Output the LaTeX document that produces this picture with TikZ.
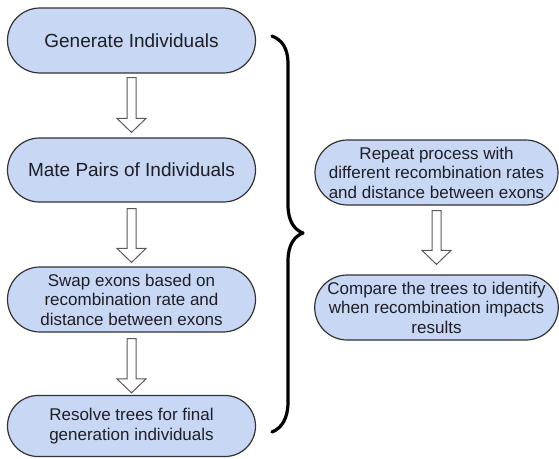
\documentclass[tikz,border=0pt]{standalone}
\usepackage{fontspec}
\setmainfont{Liberation Sans}
\usetikzlibrary{shapes.misc,calc}
\definecolor{boxfill}{RGB}{200,215,243}
\definecolor{boxline}{RGB}{50,50,55}
\definecolor{txt}{RGB}{30,30,40}
\definecolor{arrline}{RGB}{90,90,90}
\tikzset{
  pill/.style={rounded rectangle, draw=boxline, line width=1.2pt, fill=boxfill,
    text=txt, align=center, inner sep=0pt},
  bigtext/.style={font=\fontsize{19}{22}\selectfont},
  smalltext/.style={font=\fontsize{17}{19.5}\selectfont},
  blockarrow/.style={draw=arrline, line width=1pt, fill=white, line join=miter},
  bracestyle/.style={line width=3.2pt, line cap=round, line join=round, black}
}
\newcommand{\blockarr}[4]{% from node, to node, top gap, tip gap
  \draw[blockarrow] let \p1=($(#1.south)+(0,-#3)$), \p2=($(#2.north)+(0,#4)$) in
    (\x1-4.5pt,\y1) -- (\x1+4.5pt,\y1) -- (\x1+4.5pt,\y2+14pt) -- (\x1+14.5pt,\y2+14pt)
    -- (\x1,\y2) -- (\x1-14.5pt,\y2+14pt) -- (\x1-4.5pt,\y2+14pt) -- cycle;}
\begin{document}
\begin{tikzpicture}[x=1pt,y=-1pt]
\useasboundingbox (0,0) rectangle (559,458);
\node[pill,bigtext,minimum width=248pt,minimum height=65pt] (b1) at (131.5,40.5) {Generate Individuals};
\node[pill,bigtext,minimum width=248pt,minimum height=64pt] (b2) at (131.5,170) {Mate Pairs of Individuals};
\node[pill,smalltext,minimum width=248pt,minimum height=65pt] (b3) at (131.5,299.5) {Swap exons based on\\recombination rate and\\distance between exons};
\node[pill,smalltext,minimum width=248pt,minimum height=61pt] (b4) at (131.5,426) {Resolve trees for final\\generation individuals};
\node[pill,smalltext,minimum width=243pt,minimum height=65pt] (b5) at (436.5,172.5) {Repeat process with\\different recombination rates\\and distance between exons};
\node[pill,smalltext,minimum width=243pt,minimum height=65pt] (b6) at (436.5,307.5) {Compare the trees to identify\\when recombination impacts\\results};
\blockarr{b1}{b2}{4pt}{5pt}
\blockarr{b2}{b3}{6pt}{4pt}
\blockarr{b3}{b4}{6pt}{2pt}
\blockarr{b5}{b6}{5pt}{10pt}
\coordinate (bt) at (272,36);
\coordinate (bm) at (303,233);
\coordinate (bb) at (272,432);
\draw[bracestyle] (bt) .. controls (282,40) and (288,48) .. (288,64)
  -- (288,205) .. controls (288,222) and (295,230) .. (bm)
  .. controls (295,236) and (288,244) .. (288,261)
  -- (288,402) .. controls (288,418) and (282,428) .. (bb);
\end{tikzpicture}
\end{document}
